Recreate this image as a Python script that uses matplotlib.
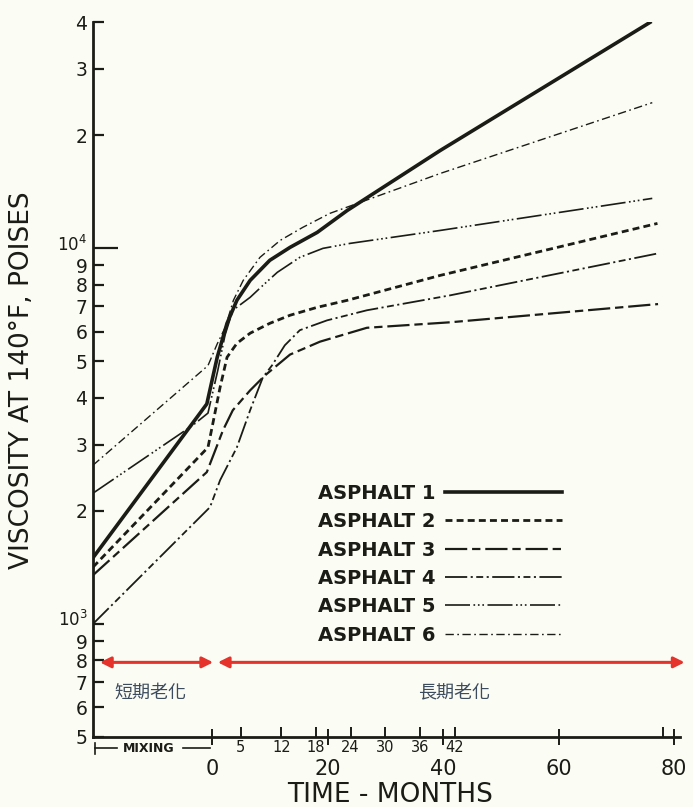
import matplotlib
matplotlib.use("Agg")
import matplotlib.pyplot as plt
import matplotlib.transforms as mtransforms

plt.rcParams['font.family'] = ['DejaVu Sans']
plt.rcParams['lines.scale_dashes'] = False

# months (negative = mixing period), viscosity in poises
m1 = [-20.6, -0.9, 0.9, 2.6, 4.3, 6.6, 10.0, 13.5, 18.2, 23.4, 39.5, 75.8]
v1 = [1500, 3850, 5125, 6310, 7265, 8210, 9285, 10050, 11015, 12600, 18200, 39900]

m2 = [-20.6, -0.7, 0, 1.4, 2.6, 4.3, 6.6, 10.0, 13.5, 18.2, 23.4, 39.5, 77.1]
v2 = [1416, 2950, 3330, 4265, 5125, 5580, 5940, 6310, 6630, 6960, 7265, 8465, 11640]

m3 = [-20.6, -0.9, 1.9, 3.6, 6.6, 9.2, 13.5, 18.7, 26.8, 41.2, 77.2]
v3 = [1348, 2535, 3277, 3705, 4185, 4590, 5210, 5640, 6140, 6350, 7100]

m4 = [-20.6, -0.35, 1.4, 4.3, 6.6, 8.8, 10.4, 12.6, 15.2, 19.9, 26.8, 41.2, 77.1]
v4 = [1000, 2045, 2413, 2950, 3705, 4530, 4880, 5515, 6050, 6425, 6835, 7490, 9680]

m5 = [-20.6, -3.3, -0.7, 1.0, 2.25, 3.6, 6.6, 8.8, 11.3, 15.2, 19.2, 23.9, 39.5, 76.2]
v5 = [2228, 3380, 3640, 4730, 5870, 6835, 7400, 7960, 8625, 9455, 9990, 10300, 11150, 13570]

m6 = [-20.6, -0.7, 0.87, 2.3, 3.7, 5.4, 8.3, 11.8, 15.7, 20.4, 39.5, 76.2]
v6 = [2645, 4870, 5550, 6160, 7265, 8210, 9455, 10490, 11360, 12380, 15810, 24400]

ytick_vals = [500, 600, 700, 800, 900, 1000, 2000, 3000, 4000, 5000, 6000, 7000,
              8000, 9000, 10000, 20000, 30000, 40000]
ytick_txt = ['5', '6', '7', '8', '9', r'$10^3$', '2', '3', '4', '5', '6', '7',
             '8', '9', r'$10^4$', '2', '3', '4']

major_months = [0, 20, 40, 60, 80]
minor_months = [5, 12, 18, 24, 30, 36, 42, 78]
minor_txt = ['5', '12', '18', '24', '30', '36', '42', '']

bg = '#fbfcf4'
ink = '#1c1c17'

fig = plt.figure(figsize=(6.93, 8.07), dpi=100, facecolor=bg)
ax = fig.add_axes([93 / 693, 1 - 737 / 807, 587 / 693, 715 / 807])
ax.set_facecolor(bg)

ax.plot(m1, v1, color=ink, lw=2.6, label='ASPHALT 1')
ax.plot(m2, v2, color=ink, lw=2.0, dashes=(5, 3), label='ASPHALT 2')
ax.plot(m3, v3, color=ink, lw=1.6, dashes=(16, 3.5, 6, 3.5), label='ASPHALT 3')
ax.plot(m4, v4, color=ink, lw=1.3, dashes=(16, 2.5, 1.5, 2.5, 5, 2.5, 1.5, 2.5), label='ASPHALT 4')
ax.plot(m5, v5, color=ink, lw=1.2, dashes=(18, 2.5, 1.2, 2, 1.2, 2, 1.2, 2.5), label='ASPHALT 5')
ax.plot(m6, v6, color=ink, lw=1.0, dashes=(6, 2.5, 1.2, 2.5), label='ASPHALT 6')

ax.set_yscale('log')
ax.set_ylim(500, 40000)
ax.set_xlim(-20.6, 81)

ax.yaxis.set_major_locator(matplotlib.ticker.FixedLocator(ytick_vals))
ax.yaxis.set_major_formatter(matplotlib.ticker.FixedFormatter(ytick_txt))
ax.yaxis.set_minor_locator(matplotlib.ticker.NullLocator())
ax.tick_params(axis='y', direction='in', length=8, width=1.6, labelsize=13.5, pad=4, colors=ink)
yticks = ax.yaxis.get_major_ticks()
yticks[ytick_vals.index(10000)].tick1line.set_markersize(18)
# lift the 10^n labels a little so they clear the "9" below
lift = mtransforms.ScaledTranslation(0, 4 / 72, fig.dpi_scale_trans)
for v in (1000, 10000):
    lab = yticks[ytick_vals.index(v)].label1
    lab.set_fontsize(12)
    lab.set_transform(lab.get_transform() + lift)

ax.set_xticks(major_months, [str(m) for m in major_months])
ax.set_xticks(minor_months, minor_txt, minor=True)
ax.tick_params(axis='x', which='major', direction='inout', length=12, width=1.4,
               labelsize=15, pad=10, colors=ink)
ax.tick_params(axis='x', which='minor', direction='in', length=7, width=1.4,
               labelsize=10.5, pad=2, colors=ink)

for s in ['top', 'right']:
    ax.spines[s].set_visible(False)
for s in ['left', 'bottom']:
    ax.spines[s].set_linewidth(2.0)
    ax.spines[s].set_color(ink)

# mixing bracket under the axis
trans = mtransforms.blended_transform_factory(ax.transData, ax.transAxes)
yb = -0.016
ax.text(-10.9, yb, 'MIXING', transform=trans, ha='center', va='center',
        fontsize=9, fontweight='bold', color=ink)
ax.plot([-20.2, -16.5], [yb, yb], transform=trans, color=ink, lw=1.2, clip_on=False)
ax.plot([-20.2, -20.2], [yb - 0.008, yb + 0.008], transform=trans, color=ink, lw=1.2, clip_on=False)
ax.plot([-5.0, -0.3], [yb, yb], transform=trans, color=ink, lw=1.2, clip_on=False)

# ageing periods
red = '#e5332b'
ax.annotate('', xy=(0.2, 790), xytext=(-19.4, 790),
            arrowprops=dict(arrowstyle='<|-|>', color=red, lw=2.2, mutation_scale=16,
                            shrinkA=0, shrinkB=0), annotation_clip=False)
ax.annotate('', xy=(81.8, 790), xytext=(1.0, 790),
            arrowprops=dict(arrowstyle='<|-|>', color=red, lw=2.2, mutation_scale=16,
                            shrinkA=0, shrinkB=0), annotation_clip=False)
ax.text(-10.7, 655, '短期老化', ha='center', va='center', fontsize=13,
        color='#3d4b5e', family=['Noto Sans CJK TC', 'DejaVu Sans'])
ax.text(41.9, 655, '長期老化', ha='center', va='center', fontsize=13,
        color='#3d4b5e', family=['Noto Sans CJK TC', 'DejaVu Sans'])

leg = ax.legend(loc='upper left', bbox_to_anchor=(0.383, 0.354), markerfirst=False,
                frameon=False, handlelength=6.0, handletextpad=0.5, labelspacing=0.48,
                borderpad=0, borderaxespad=0, prop={'size': 14, 'weight': 'bold'})
for t in leg.get_texts():
    t.set_color(ink)

fig.text(390 / 693, 1 - 795 / 807, 'TIME - MONTHS', ha='center', va='center',
         fontsize=19, color=ink)
fig.text(22 / 693, 1 - 380 / 807, 'VISCOSITY AT 140°F, POISES', ha='center', va='center',
         rotation=90, fontsize=19, color=ink)

fig.savefig('out.png', dpi=100, facecolor=bg)
